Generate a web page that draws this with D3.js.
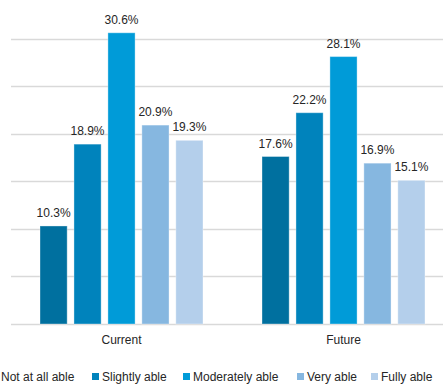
<!DOCTYPE html>
<html>
<head>
<meta charset="utf-8">
<script src="https://cdn.jsdelivr.net/npm/d3@7"></script>
<style>
  body { margin: 0; background: #fff; }
  #chart { width: 443px; height: 385px; overflow: hidden; }
  text { font-family: "Liberation Sans", Arial, sans-serif; fill: #262626; }
</style>
</head>
<body>
<div id="chart"></div>
<script>
const categories = ['Current', 'Future']
const series = ['Not at all able', 'Slightly able', 'Moderately able', 'Very able', 'Fully able']
const currentValues = [10.3, 18.9, 30.6, 20.9, 19.3]
const futureValues = [17.6, 22.2, 28.1, 16.9, 15.1]
const gridTicks = [0, 5, 10, 15, 20, 25, 30]
const colors = ['#00709f', '#0083bc', '#009bd8', '#86b7e0', '#b4cfeb']

const data = categories.map((c, i) => {
  const vals = i === 0 ? currentValues : futureValues
  return { group: c, values: series.map((s, j) => ({ key: s, value: vals[j] })) }
})

const width = 443
const height = 385

const svg = d3.select('#chart')
  .append('svg')
  .attr('width', width)
  .attr('height', height)

const y = d3.scaleLinear().domain([0, 30]).range([324, 38.5])

const x0 = d3.scaleBand().domain(categories).range([10.5, 454.5])
const x1 = d3.scaleBand().domain(series).range([29.5, 192.5]).paddingInner(0.2)

// gridlines
svg.append('g')
  .selectAll('line')
  .data(gridTicks)
  .enter()
  .append('line')
  .attr('x1', 11)
  .attr('x2', width)
  .attr('y1', (d) => Math.round(y(d)) + 0.5)
  .attr('y2', (d) => Math.round(y(d)) + 0.5)
  .attr('stroke', '#d9d9d9')
  .attr('stroke-width', 1.3)

const groups = svg.append('g')
  .selectAll('g')
  .data(data)
  .enter()
  .append('g')
  .attr('transform', (d) => `translate(${x0(d.group)},0)`)

groups.selectAll('rect')
  .data((d) => d.values)
  .enter()
  .append('rect')
  .attr('x', (d) => x1(d.key))
  .attr('y', (d) => y(d.value))
  .attr('width', x1.bandwidth())
  .attr('height', (d) => y(0) - y(d.value))
  .attr('fill', (d, i) => colors[i])
  .attr('stroke', '#ffffff')
  .attr('stroke-opacity', 0.35)
  .attr('stroke-width', 1)

groups.selectAll('text.label')
  .data((d) => d.values)
  .enter()
  .append('text')
  .attr('class', 'label')
  .attr('x', (d) => x1(d.key) + x1.bandwidth() / 2)
  .attr('y', (d) => y(d.value) - 9)
  .attr('text-anchor', 'middle')
  .style('font-size', '12px')
  .text((d) => d.value.toFixed(1) + '%')

// category axis labels
svg.append('g')
  .selectAll('text')
  .data(categories)
  .enter()
  .append('text')
  .attr('x', (d) => x0(d) + 111)
  .attr('y', 344)
  .attr('text-anchor', 'middle')
  .style('font-size', '12px')
  .text((d) => d)

// legend
const legendX = [-9, 92, 183, 297, 371]
const legend = svg.append('g')
  .selectAll('g')
  .data(series)
  .enter()
  .append('g')
  .attr('transform', (d, i) => `translate(${legendX[i]},373)`)

legend.append('rect')
  .attr('width', 7)
  .attr('height', 7)
  .attr('fill', (d, i) => colors[i])

legend.append('text')
  .attr('x', 10)
  .attr('y', 8)
  .style('font-size', '12px')
  .text((d) => d)
</script>
</body>
</html>
